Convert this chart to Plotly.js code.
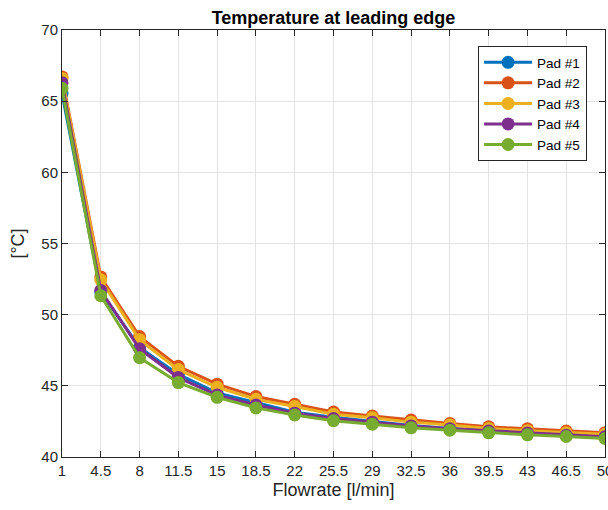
<!DOCTYPE html>
<html>
<head>
<meta charset="utf-8">
<script src="https://cdn.plot.ly/plotly-3.0.1.min.js"></script>
<style>html,body{margin:0;padding:0;background:#fff;}#chart{width:608px;height:510px;}</style>
</head>
<body>
<div id="chart"></div>
<script>
const flowrate = [1, 4.5, 8, 11.5, 15, 18.5, 22, 25.5, 29, 32.5, 36, 39.5, 43, 46.5, 50];
const pad1 = [65.55, 51.6, 47.7, 45.8, 44.5, 43.8, 43.15, 42.8, 42.5, 42.22, 42.0, 41.85, 41.7, 41.55, 41.45];
const pad2 = [66.7, 52.65, 48.46, 46.37, 45.12, 44.25, 43.7, 43.16, 42.88, 42.6, 42.35, 42.12, 41.98, 41.82, 41.7];
const pad3 = [66.6, 52.45, 48.23, 46.14, 44.9, 44.05, 43.55, 43.0, 42.75, 42.45, 42.25, 42.0, 41.85, 41.7, 41.6];
const pad4 = [66.3, 51.7, 47.6, 45.58, 44.35, 43.65, 43.08, 42.7, 42.45, 42.18, 41.98, 41.83, 41.68, 41.53, 41.43];
const pad5 = [65.9, 51.33, 46.98, 45.23, 44.19, 43.45, 42.95, 42.55, 42.3, 42.05, 41.88, 41.7, 41.56, 41.44, 41.3];
const names = ['Pad #1', 'Pad #2', 'Pad #3', 'Pad #4', 'Pad #5'];
const colors = ['#0072BD', '#D95319', '#EDB120', '#7E2F8E', '#77AC30'];
const series = [pad1, pad2, pad3, pad4, pad5];
const yTicks = [40, 45, 50, 55, 60, 65, 70];

const traces = series.map((s, i) => ({
  x: flowrate, y: s, name: names[i], type: 'scatter', mode: 'lines+markers',
  line: {color: colors[i], width: 3},
  marker: {color: colors[i], size: 13}
}));

const FONT = 'Liberation Sans, Arial, sans-serif';
const axisCommon = {
  showline: true, linecolor: '#262626', linewidth: 1, mirror: 'ticks',
  ticks: 'inside', ticklen: 6, tickcolor: '#262626',
  showgrid: true, gridcolor: '#e3e3e3', gridwidth: 1, zeroline: false,
  ticklabeloverflow: 'allow',
  tickfont: {family: FONT, size: 15, color: '#262626'}
};

const layout = {
  width: 608, height: 510,
  margin: {l: 62, r: 3, t: 30, b: 53},
  paper_bgcolor: '#fff', plot_bgcolor: '#fff',
  font: {family: FONT, color: '#262626'},
  title: {text: '<b>Temperature at leading edge</b>', xref: 'paper', x: 0.5, xanchor: 'center',
          yref: 'container', y: 0.966, yanchor: 'middle',
          font: {family: FONT, size: 18, color: '#000'}},
  xaxis: Object.assign({}, axisCommon, {
    range: [1, 50], tickmode: 'array', tickvals: flowrate, ticktext: flowrate.map(String),
    title: {text: 'Flowrate [l/min]', font: {family: FONT, size: 18, color: '#262626'}, standoff: 5}
  }),
  yaxis: Object.assign({}, axisCommon, {
    range: [40, 70], tickmode: 'array', tickvals: yTicks, ticktext: yTicks.map(String),
    title: {text: '[°C]', font: {family: FONT, size: 18, color: '#262626'}, standoff: 12}
  }),
  showlegend: true,
  legend: {x: 0.967, xanchor: 'right', y: 0.9625, yanchor: 'top',
           bgcolor: '#fff', bordercolor: '#262626', borderwidth: 1, itemwidth: 48,
           font: {family: FONT, size: 13.5, color: '#000'}, tracegroupgap: 0}
};

Plotly.newPlot('chart', traces, layout, {displayModeBar: false, staticPlot: true});
</script>
</body>
</html>
